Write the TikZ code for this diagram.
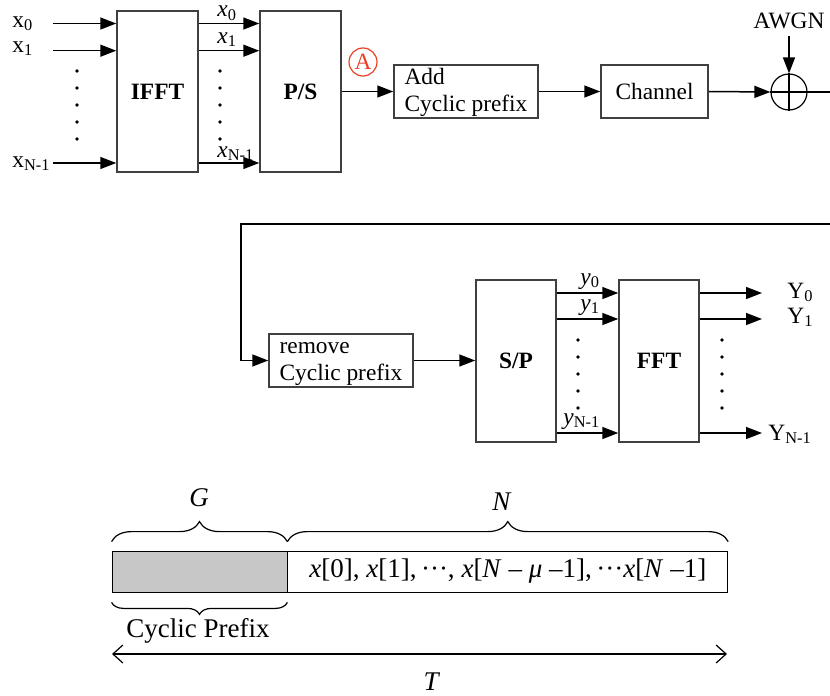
\documentclass[tikz,border=0pt]{standalone}
\usepackage{fontspec}
\setmainfont{Liberation Serif}
\usetikzlibrary{arrows.meta,decorations.pathreplacing}
\definecolor{markred}{RGB}{232,64,36}

\begin{document}
\begin{tikzpicture}[
    x=0.5pt, y=-0.5pt,
    font=\fontsize{11.7}{13.5}\selectfont,
    blk/.style={draw=black!75, line width=0.75pt, inner sep=0pt, align=center},
    arr/.style={-{Triangle[length=8pt,width=6pt]}, line width=0.75pt},
    lbl/.style={inner sep=0pt, anchor=base west},
    bot/.style={font=\fontsize{13.5}{15}\selectfont},
    brc/.style={decorate, decoration={brace, amplitude=10pt}, line width=0.6pt},
]
\useasboundingbox (0,0) rectangle (830,696);

% transmitter
\node[blk, minimum width=40.5pt, minimum height=80.5pt] (ifft) at (157.5,91.5) {\textbf{IFFT}};
\node[blk, minimum width=40.5pt, minimum height=80.5pt] (ps)   at (300.5,91.5) {\textbf{P/S}};
\node[blk, minimum width=72pt,   minimum height=26.5pt, align=left] (addcp) at (466,91.5) {\strut Add\\Cyclic prefix};
\node[blk, minimum width=53.5pt, minimum height=26.5pt] (chan) at (654.5,91.5) {Channel};
\node[circle, draw, line width=0.6pt, minimum size=18pt, inner sep=0pt] (sum) at (789,92) {};
\node (awgn) at (789,21) {AWGN};
\node[circle, draw=markred, text=markred, line width=0.6pt, minimum size=14pt, inner sep=0pt] (markA) at (363,62) {A};

% inputs, IFFT <-> P/S
\foreach \i/\y in {0/23.5,1/50.7,2/163} {
    \coordinate (in\i) at (53,\y);
    \draw[arr] (in\i) -- (in\i -| ifft.west);
    \draw[arr] (in\i -| ifft.east) -- (in\i -| ps.west);
}
\node[lbl] (lx0) at (12,27)  {x\textsubscript{0}};
\node[lbl] (lx1) at (12,52)  {x\textsubscript{1}};
\node[lbl] (lxn) at (12,167) {x\textsubscript{N-1}};
\node[lbl] (mx0) at (217,17)  {\textit{x}\textsubscript{0}};
\node[lbl] (mx1) at (217,43)  {\textit{x}\textsubscript{1}};
\node[lbl] (mxn) at (217,157) {\textit{x}\textsubscript{N-1}};
\foreach \y in {71,88,105,122,139} {
    \fill (77,\y) circle (0.9pt);
    \fill (220,\y) circle (0.9pt);
}

% P/S -> channel -> noise
\draw[arr] (ps.east |- addcp.west) -- (addcp.west);
\draw[arr] (addcp.east) -- (chan.west);
\draw[arr] (chan.east) -- (sum.west);
\draw[arr] (awgn.south) -- (sum.north);
\draw[line width=0.6pt] (sum.north) -- (sum.south) (sum.west) -- (sum.east);
\coordinate (edgeA) at (830,92);
\draw[line width=0.75pt] (sum.east) -- (edgeA);

% receiver
\node[blk, minimum width=72pt, minimum height=26.5pt, align=left] (remcp) at (341,360.5) {\strut remove\\Cyclic prefix};
\node[blk, minimum width=40pt, minimum height=81pt] (sp)  at (516,361) {\textbf{S/P}};
\node[blk, minimum width=40pt, minimum height=81pt] (fft) at (659,361) {\textbf{FFT}};

\coordinate (fbR) at (830,224);
\coordinate (fbL) at (241,224);
\draw[arr] (fbR) -- (fbL) |- (remcp.west);
\draw[arr] (remcp.east) -- (remcp.east -| sp.west);

% S/P <-> FFT, outputs
\foreach \i/\y in {0/293,1/319,2/433} {
    \coordinate (out\i) at (762,\y);
    \draw[arr] (sp.east |- out\i) -- (fft.west |- out\i);
    \draw[arr] (fft.east |- out\i) -- (out\i);
}
\node[lbl] (my0) at (580,284) {\textit{y}\textsubscript{0}};
\node[lbl] (my1) at (580,310) {\textit{y}\textsubscript{1}};
\node[lbl] (myn) at (563,424) {\textit{y}\textsubscript{N-1}};
\node[lbl] (ly0) at (787,298) {Y\textsubscript{0}};
\node[lbl] (ly1) at (787,323) {Y\textsubscript{1}};
\node[lbl] (lyn) at (768,440) {Y\textsubscript{N-1}};
\foreach \y in {340,357,374,391,408} {
    \fill (578,\y) circle (0.9pt);
    \fill (722,\y) circle (0.9pt);
}

% OFDM symbol with cyclic prefix
\node[draw, fill=black!22, minimum width=87.5pt, minimum height=20.5pt, inner sep=0pt] (cp) at (199.5,571.5) {};
\node[draw, bot, minimum width=220pt, minimum height=20.5pt, inner sep=0pt, anchor=west] (data) at (cp.east)
    {\textit{x}[0], \textit{x}[1],\,···, \textit{x}[\textit{N} – \textit{μ} –1],\,···\textit{x}[\textit{N} –1]};

\draw[brc] ([yshift=4.5pt]cp.north west) -- ([yshift=4.5pt]cp.north east);
\draw[brc] ([yshift=4.5pt]data.north west) -- ([yshift=4.5pt]data.north east);
\draw[brc, decoration={amplitude=6pt}] ([yshift=-5pt]cp.south east) -- ([yshift=-5pt]cp.south west);
\node[bot] (lblG) at (199,498) {\textit{G}};
\node[bot] (lblN) at (502,502) {\textit{N}};
\node[bot] (lblcp) at (198,631) {Cyclic Prefix};

\coordinate (tL) at (112,654);
\coordinate (tR) at (727,654);
\draw[{Straight Barb[length=5pt,width=9pt]}-{Straight Barb[length=5pt,width=9pt]}, line width=0.6pt] (tL) -- (tR);
\node[bot] (lblT) at (432,682) {\textit{T}};

\end{tikzpicture}
\end{document}
